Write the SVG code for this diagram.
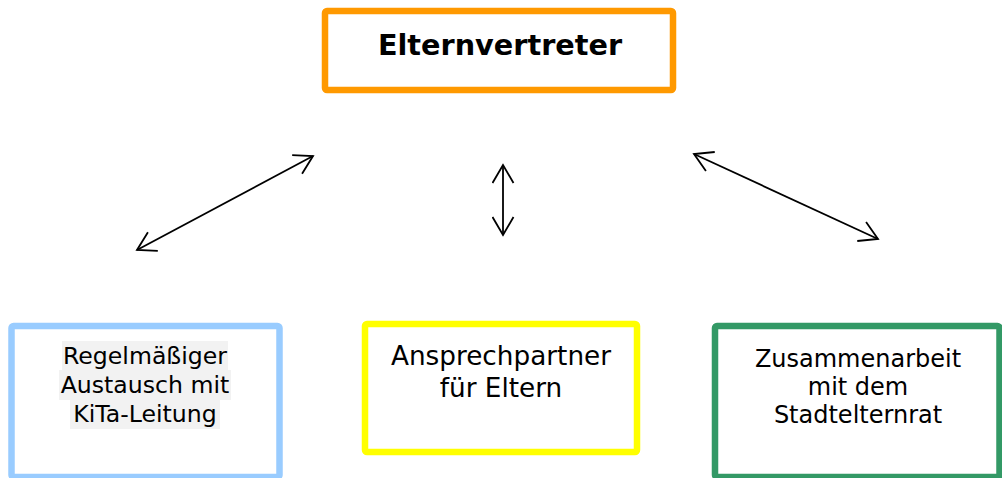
<svg xmlns="http://www.w3.org/2000/svg" width="1002" height="478" viewBox="0 0 1002 478">
<style>
.box{fill:#fff;stroke-width:6.5;stroke-linejoin:round}
.t{font-family:"DejaVu Sans",Verdana,sans-serif;fill:#000;text-anchor:middle}
.c{stroke:#000;stroke-width:1.8;fill:none;marker-start:url(#ah);marker-end:url(#ah)}
.hl{fill:#f2f2f2}
</style>
<defs>
<marker id="ah" viewBox="-1 -1 21 23" markerWidth="21" markerHeight="23" refX="18" refY="10.5" orient="auto-start-reverse" markerUnits="userSpaceOnUse">
<path d="M0,0 L18,10.5 L0,21" fill="none" stroke="#000" stroke-width="1.8"/>
</marker>
</defs>
<g id="connectors">
<line class="c" x1="137" y1="250" x2="313" y2="156"/>
<line class="c" x1="503" y1="235" x2="503" y2="165"/>
<line class="c" x1="694" y1="154" x2="878" y2="239"/>
</g>
<g id="elternvertreter">
<rect class="box" x="325" y="11" width="348" height="79" rx="2" stroke="#ff9900"/>
<text class="t" x="500" y="55" font-size="28.7" font-weight="bold">Elternvertreter</text>
</g>
<g id="kita">
<rect class="box" x="11.5" y="326" width="268" height="151" rx="2" stroke="#99ccff"/>
<rect class="hl" x="62" y="341" width="166" height="29"/>
<rect class="hl" x="59" y="370" width="172" height="30"/>
<rect class="hl" x="70" y="400" width="150" height="29"/>
<text class="t" font-size="23.6"><tspan x="145" y="364">Regelmäßiger</tspan><tspan x="145" y="393">Austausch mit</tspan><tspan x="145" y="422">KiTa-Leitung</tspan></text>
</g>
<g id="ansprechpartner">
<rect class="box" x="365" y="324" width="272" height="128" rx="2" stroke="#ffff00"/>
<text class="t" font-size="26.3"><tspan x="501" y="365">Ansprechpartner</tspan><tspan x="501" y="397">für Eltern</tspan></text>
</g>
<g id="stadtelternrat">
<rect class="box" x="715" y="326" width="284.5" height="151" rx="2" stroke="#339966"/>
<text class="t" font-size="24"><tspan x="858" y="367">Zusammenarbeit</tspan><tspan x="858" y="395">mit dem</tspan><tspan x="858" y="423">Stadtelternrat</tspan></text>
</g>
</svg>
